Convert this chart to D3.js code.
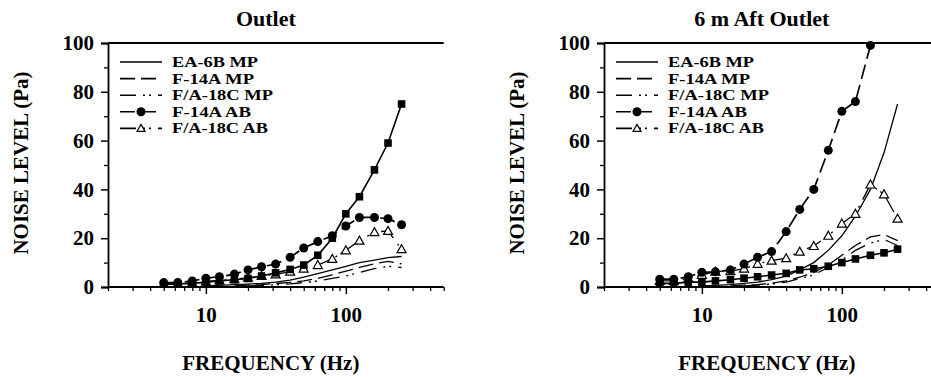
<!DOCTYPE html>
<html><head><meta charset="utf-8">
<script src="https://cdn.jsdelivr.net/npm/d3@7"></script>
<style>
html,body{margin:0;padding:0;background:#fff;}
svg text{font-family:"Liberation Serif","Times New Roman",serif;font-weight:bold;fill:#000;}
</style></head>
<body>
<svg id="chart" width="931" height="377"></svg>
<script>
// ---------- data ----------
const freqs = [5, 6.3, 8, 10, 12.5, 16, 20, 25, 31.5, 40, 50, 63, 80, 100, 125, 160, 200, 250];
const seriesNames = ["EA-6B MP", "F-14A MP", "F/A-18C MP", "F-14A AB", "F/A-18C AB"];
const panelTitles = ["Outlet", "6 m Aft Outlet"];
const yTicks = [0, 20, 40, 60, 80, 100];
const xTickLabels = [10, 100];
const xLabel = "FREQUENCY (Hz)";
const yLabel = "NOISE LEVEL (Pa)";

// Outlet panel
const outletSquares = [1.0, 1.2, 1.5, 2.0, 2.5, 3.0, 3.5, 4.5, 5.8, 7.2, 9.0, 13, 20, 30, 37, 48, 59, 75];
const outletEA6BMP  = [null, null, null, 0.5, 0.7, 1.0, 1.2, 1.5, 2.0, 2.8, 4.0, 5.5, 7.0, 8.5, 10, 11, 12, 12.5];
const outletF14AMP  = [null, null, null, null, null, 0.5, 0.8, 1.0, 1.4, 1.9, 2.5, 3.5, 5.0, 6.5, 8.0, 9.5, 10.5, 9.5];
const outletFA18CMP = [null, null, null, null, null, null, 0.4, 0.6, 0.9, 1.3, 1.8, 2.5, 3.5, 4.5, 6.0, 7.5, 8.5, 8.0];
const outletF14AAB  = [1.8, 1.8, 2.5, 3.6, 4.2, 5.3, 7.0, 8.3, 9.4, 12.2, 16.0, 18.6, 21, 25, 28.5, 28.5, 28, 25.5];
const outletFA18CAB = [1.3, 1.4, 1.8, 2.3, 2.7, 3.2, 3.8, 4.5, 5.2, 6.3, 7.5, 9.0, 11.5, 15, 19, 22.5, 23, 15.5];

// 6 m Aft Outlet panel
const aftSquares  = [1.5, 1.5, 2.0, 2.0, 2.5, 3.0, 3.6, 4.2, 4.9, 5.6, 7.0, 7.5, 8.5, 10, 11.5, 13, 14, 15.5];
const aftEA6BMP   = [null, null, null, 0.5, 0.7, 1.0, 1.5, 2.0, 3.0, 4.5, 7.0, 10, 15, 21, 29, 40, 55, 75];
const aftF14AMP   = [null, null, null, null, null, 0.5, 0.8, 1.0, 1.5, 2.5, 4.0, 6.0, 9.0, 13, 17, 20.5, 21.5, 19];
const aftFA18CMP  = [null, null, null, null, null, null, 0.5, 0.8, 1.2, 2.0, 3.5, 5.0, 8.0, 11, 15, 18, 19.5, 17];
const aftF14AAB   = [3.2, 3.2, 4.2, 6.0, 6.2, 7.0, 9.4, 12.2, 14.5, 22.7, 31.8, 40, 56, 72, 76, 99, null, null];
const aftFA18CAB  = [2.5, 2.5, 3.5, 5.0, 6.3, 6.5, 7.5, 9.5, 10.8, 11.8, 14.5, 16.8, 21, 26, 30, 42, 38, 28];

// ---------- styles ----------
const DASH_F14 = "15,6";
const DASH_FA18 = "16,7,2,4,2,7";
const styles = {
  sq:   {dash: null,      marker: "square",   width: 1.6},
  ea:   {dash: null,      marker: null,       width: 1.3},
  f14:  {dash: DASH_F14,  marker: null,       width: 1.3},
  fa18: {dash: DASH_FA18, marker: null,       width: 1.3},
  f14ab:{dash: DASH_F14,  marker: "circle",   width: 1.7},
  fa18ab:{dash: DASH_FA18,marker: "triangle", width: 1.3}
};
const legendWidths = [86, 82, 101, 79, 96];

const panels = [
  {title: panelTitles[0], x0: 108, series: [
    ["ea", outletEA6BMP], ["f14", outletF14AMP], ["fa18", outletFA18CMP],
    ["fa18ab", outletFA18CAB], ["f14ab", outletF14AAB], ["sq", outletSquares]]},
  {title: panelTitles[1], x0: 604, series: [
    ["ea", aftEA6BMP], ["f14", aftF14AMP], ["fa18", aftFA18CMP],
    ["fa18ab", aftFA18CAB], ["sq", aftSquares], ["f14ab", aftF14AAB]]}
];

const svg = d3.select("#chart");
const DECADE = 140;
const xDomain = [2, 500];
const yTop = 43, yBot = 287;
const y = d3.scaleLinear().domain([0, 100]).range([yBot, yTop]);

const minorX = [];
[1, 10, 100].forEach(d => { for (let k = 2; k <= 9; k++) { const v = d * k; if (v >= xDomain[0] && v <= xDomain[1] && v !== 10 && v !== 100) minorX.push(v); } });

panels.forEach((p, pi) => {
  const x = d3.scaleLog().domain(xDomain).range([p.x0, p.x0 + DECADE * Math.log10(xDomain[1] / xDomain[0])]);
  const g = svg.append("g");
  const [xa, xb] = x.range();

  // title
  g.append("text").attr("x", (xa + xb) / 2 - 10).attr("y", 26).attr("text-anchor", "middle")
    .style("font-size", "22px").text(p.title);

  // frame: top line
  g.append("line").attr("x1", xa).attr("x2", xb).attr("y1", yTop).attr("y2", yTop)
    .attr("stroke", "#000").attr("stroke-width", 2);

  // y axis
  const yAxis = d3.axisLeft(y).tickValues(yTicks).tickSize(7).tickFormat(d3.format("d"));
  const ya = g.append("g").attr("transform", `translate(${xa},0)`).call(yAxis);
  ya.select(".domain").attr("stroke-width", 1.8);
  ya.selectAll(".tick line").attr("stroke-width", 1.5);
  ya.selectAll(".tick text").style("font-size", "21px").style("font-family", "Liberation Serif").style("font-weight", "bold").attr("x", -14);
  const yMinor = d3.axisLeft(y).tickValues([10, 30, 50, 70, 90]).tickSize(4).tickFormat("");
  g.append("g").attr("transform", `translate(${xa},0)`).call(yMinor).call(s => s.select(".domain").remove())
    .selectAll(".tick line").attr("stroke-width", 1.3);

  // x axis
  const xAxis = d3.axisBottom(x).tickValues(xTickLabels).tickSize(7).tickFormat(d3.format("d"));
  const xg = g.append("g").attr("transform", `translate(0,${yBot})`).call(xAxis);
  xg.select(".domain").attr("stroke-width", 1.8).attr("d", `M${xa},0H${xb}`);
  xg.selectAll(".tick line").attr("stroke-width", 1.5);
  xg.selectAll(".tick text").style("font-size", "21px").style("font-family", "Liberation Serif").style("font-weight", "bold").attr("y", 20);
  const xMinor = d3.axisBottom(x).tickValues(minorX).tickSize(4).tickFormat("");
  g.append("g").attr("transform", `translate(0,${yBot})`).call(xMinor).call(s => s.select(".domain").remove())
    .selectAll(".tick line").attr("stroke-width", 1.3);

  // axis labels
  g.append("text").attr("x", (xa + xb) / 2 - 5).attr("y", 370).attr("text-anchor", "middle")
    .style("font-size", "21px").text(xLabel);
  g.append("text").attr("transform", `translate(${xa - 80},163) rotate(-90)`).attr("text-anchor", "middle")
    .style("font-size", "21px").text(yLabel);

  // data
  const clipId = "clip" + pi;
  svg.append("clipPath").attr("id", clipId).append("rect")
    .attr("x", xa).attr("y", yTop - 6).attr("width", xb - xa).attr("height", yBot - yTop + 6);
  const dg = g.append("g").attr("clip-path", `url(#${clipId})`);
  const line = d3.line().defined(d => d[1] != null).x(d => x(d[0])).y(d => y(d[1]));
  p.series.forEach(([key, vals]) => {
    const st = styles[key];
    const pts = freqs.map((f, i) => [f, vals[i]]);
    dg.append("path").attr("d", line(pts)).attr("fill", "none").attr("stroke", "#000")
      .attr("stroke-width", st.width).attr("stroke-dasharray", st.dash);
    const mp = pts.filter(d => d[1] != null);
    if (st.marker === "circle") {
      dg.selectAll(null).data(mp).enter().append("circle")
        .attr("cx", d => x(d[0])).attr("cy", d => y(d[1])).attr("r", 4.5).attr("fill", "#000");
    } else if (st.marker === "square") {
      dg.selectAll(null).data(mp).enter().append("rect")
        .attr("x", d => x(d[0]) - 3.8).attr("y", d => y(d[1]) - 3.8).attr("width", 7.6).attr("height", 7.6).attr("fill", "#000");
    } else if (st.marker === "triangle") {
      dg.selectAll(null).data(mp).enter().append("path")
        .attr("d", d => { const cx = x(d[0]), cy = y(d[1]); return `M${cx},${cy - 4.5}L${cx + 4.5},${cy + 3.5}L${cx - 4.5},${cy + 3.5}Z`; })
        .attr("fill", "#fff").attr("stroke", "#000").attr("stroke-width", 1.2);
    }
  });

  // legend
  const legKeys = ["ea", "f14", "fa18", "f14ab", "fa18ab"];
  const lx = xa + 12, ly = 62, dy = 16.6;
  legKeys.forEach((k, i) => {
    const st = styles[k];
    const yy = ly + i * dy;
    g.append("line").attr("x1", lx).attr("x2", lx + 42).attr("y1", yy).attr("y2", yy)
      .attr("stroke", "#000").attr("stroke-width", 1.6).attr("stroke-dasharray", st.dash);
    if (st.marker === "circle") g.append("circle").attr("cx", lx + 21).attr("cy", yy).attr("r", 4.5);
    if (st.marker === "triangle") g.append("path")
      .attr("d", `M${lx + 21},${yy - 4}L${lx + 25},${yy + 3}L${lx + 17},${yy + 3}Z`)
      .attr("fill", "#fff").attr("stroke", "#000").attr("stroke-width", 1.2);
    g.append("text").attr("x", lx + 52).attr("y", yy + 5).style("font-size", "14.5px")
      .attr("textLength", legendWidths[i]).attr("lengthAdjust", "spacingAndGlyphs").text(seriesNames[i]);
  });
});
</script>
</body></html>
